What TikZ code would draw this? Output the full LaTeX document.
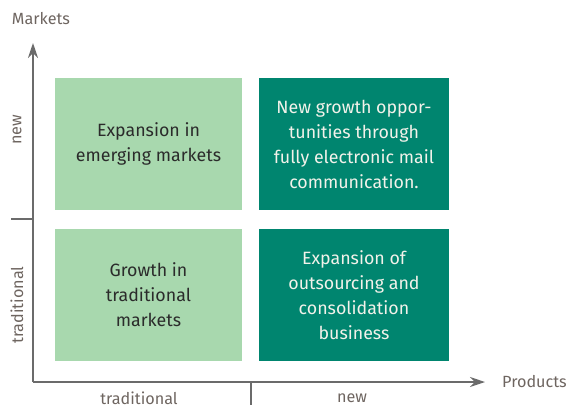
\documentclass[tikz,border=0pt]{standalone}
\usepackage{fontspec}
\setmainfont{Fira Sans}
\usetikzlibrary{arrows.meta}
\definecolor{lightfield}{HTML}{A8D8AE}
\definecolor{darkfield}{HTML}{00856F}
\definecolor{axisgray}{HTML}{6B6B6B}
\definecolor{labelbrown}{HTML}{6E6560}
\definecolor{boxtext}{HTML}{2B2B2B}
\definecolor{boxwhite}{HTML}{F2F2EA}
\begin{document}
\begin{tikzpicture}[x=1pt,y=-1pt,
  field/.style={rectangle,inner sep=0pt,align=center,
    font=\fontsize{17.8}{25}\selectfont},
  lightbox/.style={field,fill=lightfield,text=boxtext},
  darkbox/.style={field,fill=darkfield,text=boxwhite},
  axis/.style={draw=axisgray,line width=1.3pt},
  axisarrow/.style={axis,-{Stealth[length=15pt,width=10pt]}},
  axislabel/.style={text=labelbrown,inner sep=0pt,font=\fontsize{16.2}{19}\selectfont}]
  \useasboundingbox (0,0) rectangle (570,408);

  % quadrant fields
  \node[lightbox,minimum width=187pt,minimum height=132pt] (tl) at (148.5,144)
    {Expansion in\\emerging markets};
  \node[darkbox,minimum width=190pt,minimum height=132pt] (tr) at (354,144)
    {New growth oppor-\\tunities through\\fully electronic mail\\communication.};
  \node[lightbox,minimum width=187pt,minimum height=132pt] (bl) at (148.5,295)
    {Growth in\\traditional\\markets};
  \node[darkbox,minimum width=190pt,minimum height=132pt] (br) at (354,295)
    {Expansion of\\outsourcing and\\consolidation\\business};

  % axes
  \coordinate (origin) at (33,382);
  \coordinate (ytip) at (33,43);
  \coordinate (xtip) at (485,382);
  \draw[axisarrow] (origin) -- (ytip);
  \draw[axisarrow] (origin) -- (xtip);

  % dividing ticks
  \coordinate (ytick) at (11,219);
  \coordinate (ytickend) at (33,219);
  \coordinate (xtick) at (251,382);
  \coordinate (xtickend) at (251,405);
  \draw[axis] (ytick) -- (ytickend);
  \draw[axis] (xtick) -- (xtickend);

  % axis titles and category labels
  \node[axislabel] (markets) at (41,19) {Markets};
  \node[axislabel,anchor=west] (products) at (502,382) {Products};
  \node[axislabel] (xtrad) at (139,398) {traditional};
  \node[axislabel] (xnew) at (352,398) {new};
  \node[axislabel,rotate=90] (ynew) at (17,130) {new};
  \node[axislabel,rotate=90] (ytrad) at (17,305) {traditional};
\end{tikzpicture}
\end{document}
